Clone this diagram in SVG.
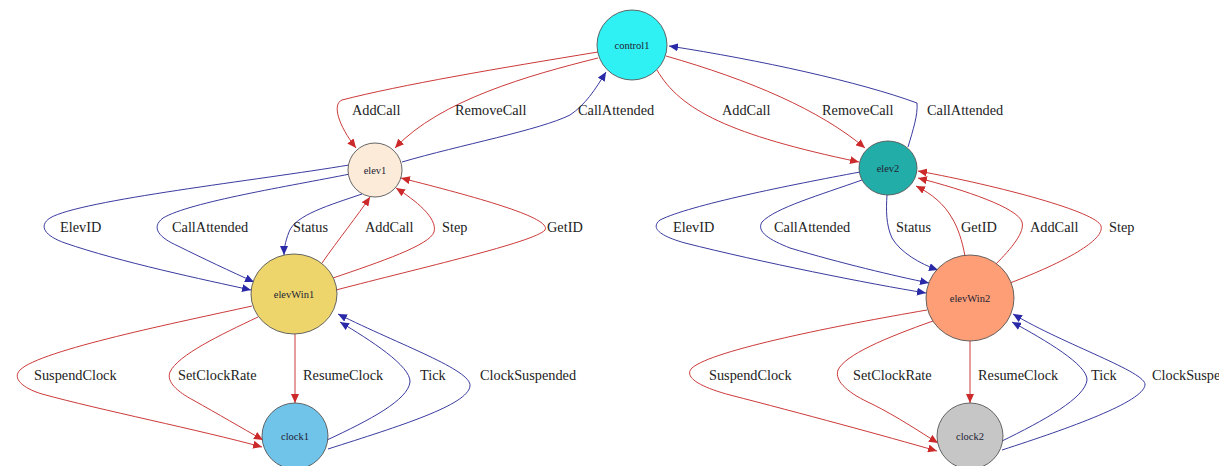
<svg xmlns="http://www.w3.org/2000/svg" width="1219" height="466" viewBox="0 0 1219 466">
<defs>
<marker id="ar" markerUnits="userSpaceOnUse" markerWidth="10" markerHeight="8" refX="9" refY="4" orient="auto"><path d="M0,0 L9,4 L0,8 z" fill="#cc2a2a"/></marker>
<marker id="ab" markerUnits="userSpaceOnUse" markerWidth="10" markerHeight="8" refX="9" refY="4" orient="auto"><path d="M0,0 L9,4 L0,8 z" fill="#2a2aa8"/></marker>
</defs>
<style>
.r{fill:none;stroke:#cc3a3a;stroke-width:1;marker-end:url(#ar)}
.b{fill:none;stroke:#3a3aa0;stroke-width:1;marker-end:url(#ab)}
.n{stroke:#555;stroke-width:0.9}
.t{font-family:"Liberation Serif",serif;font-size:10.5px;fill:#223;text-anchor:middle}
.l{font-family:"Liberation Serif",serif;font-size:14.3px;fill:#222}
</style>
<rect width="1219" height="466" fill="#fff"/>
<g id="connectors">
<path class="r" d="M598 52 C500 68,400 85,342 100 C332 104,338 125,356 148"/>
<path class="r" d="M598 58 C530 75,440 100,395 148"/>
<path class="b" d="M402 162 C460 145,540 130,570 115 C585 105,595 90,606 72"/>
<path class="r" d="M657 70 C680 110,730 135,859 162"/>
<path class="r" d="M666 56 C750 80,820 110,865 148"/>
<path class="b" d="M908 147 C913 130,918 115,917 103 C860 82,760 60,669 46"/>
<path class="b" d="M349 165 C260 180,80 200,50 218 C38 226,45 236,65 243 C120 262,205 280,251 290"/>
<path class="b" d="M350 174 C290 186,190 202,163 218 C150 228,160 238,178 246 C202 258,232 272,254 282"/>
<path class="b" d="M362 194 C330 205,295 215,289 232 C285 242,284 250,284 255"/>
<path class="r" d="M322 263 C338 240,358 215,370 197"/>
<path class="r" d="M333 278 C380 262,430 245,434 232 C438 218,415 200,396 188"/>
<path class="r" d="M336 290 C420 268,535 242,545 230 C552 218,480 198,401 178"/>
<path class="r" d="M252 306 C180 322,40 350,20 370 C12 378,22 388,42 394 C100 410,200 430,262 447"/>
<path class="r" d="M258 317 C220 335,178 355,170 372 C166 382,178 392,193 400 C218 414,242 428,263 440"/>
<path class="r" d="M295 334 L295 403"/>
<path class="b" d="M327 440 C370 420,408 400,410 382 C411 366,370 340,340 322"/>
<path class="b" d="M328 449 C400 426,468 405,470 386 C472 370,400 345,338 314"/>
<path class="b" d="M860 172 C790 185,690 205,660 220 C650 228,660 236,685 243 C760 262,870 284,926 293"/>
<path class="b" d="M862 180 C820 195,775 208,762 222 C756 232,770 240,790 248 C840 263,895 276,929 283"/>
<path class="b" d="M887 195 C886 210,886 225,892 238 C900 252,920 264,938 270"/>
<path class="r" d="M965 256 C962 240,958 228,952 218 C944 204,932 194,916 186"/>
<path class="r" d="M995 265 C1012 248,1025 232,1022 222 C1018 208,965 190,918 178"/>
<path class="r" d="M1010 283 C1065 262,1105 240,1101 226 C1097 212,1000 186,918 171"/>
<path class="r" d="M927 310 C840 325,712 350,692 368 C683 377,700 387,730 395 C800 413,885 436,937 451"/>
<path class="r" d="M933 321 C885 338,845 355,838 370 C834 382,850 394,872 404 C898 417,920 432,938 443"/>
<path class="r" d="M970 341 L970 403"/>
<path class="b" d="M1000 442 C1045 420,1085 398,1087 380 C1088 365,1045 340,1012 322"/>
<path class="b" d="M1002 450 C1070 428,1143 402,1145 385 C1147 372,1065 345,1013 314"/>
</g>
<g id="labels">
<text class="l" x="352" y="115">AddCall</text>
<text class="l" x="455" y="115">RemoveCall</text>
<text class="l" x="578" y="115">CallAttended</text>
<text class="l" x="722" y="115">AddCall</text>
<text class="l" x="822" y="115">RemoveCall</text>
<text class="l" x="927" y="115">CallAttended</text>
<text class="l" x="60" y="232">ElevID</text>
<text class="l" x="172" y="232">CallAttended</text>
<text class="l" x="293" y="232">Status</text>
<text class="l" x="365" y="232">AddCall</text>
<text class="l" x="442" y="232">Step</text>
<text class="l" x="547" y="232">GetID</text>
<text class="l" x="673" y="232">ElevID</text>
<text class="l" x="774" y="232">CallAttended</text>
<text class="l" x="896" y="232">Status</text>
<text class="l" x="961" y="232">GetID</text>
<text class="l" x="1030" y="232">AddCall</text>
<text class="l" x="1109" y="232">Step</text>
<text class="l" x="34" y="380">SuspendClock</text>
<text class="l" x="178" y="380">SetClockRate</text>
<text class="l" x="303" y="380">ResumeClock</text>
<text class="l" x="420" y="380">Tick</text>
<text class="l" x="480" y="380">ClockSuspended</text>
<text class="l" x="709" y="380">SuspendClock</text>
<text class="l" x="853" y="380">SetClockRate</text>
<text class="l" x="978" y="380">ResumeClock</text>
<text class="l" x="1091" y="380">Tick</text>
<text class="l" x="1152" y="380">ClockSuspended</text>
</g>
<g id="control1"><circle class="n" cx="632" cy="45" r="35" fill="#2ff0f2"/><text class="t" x="632" y="49">control1</text></g>
<g id="elev1"><circle class="n" cx="375" cy="170" r="27" fill="#fcebd9"/><text class="t" x="375" y="174">elev1</text></g>
<g id="elevWin1"><ellipse class="n" cx="294" cy="294" rx="43" ry="40" fill="#edd56c"/><text class="t" x="294" y="298">elevWin1</text></g>
<g id="clock1"><circle class="n" cx="295" cy="436" r="33" fill="#70c4ea"/><text class="t" x="295" y="440">clock1</text></g>
<g id="elev2"><ellipse class="n" cx="888" cy="168" rx="29" ry="27" fill="#22ada8"/><text class="t" x="888" y="172">elev2</text></g>
<g id="elevWin2"><ellipse class="n" cx="970" cy="298" rx="44" ry="43" fill="#fd9e77"/><text class="t" x="970" y="302">elevWin2</text></g>
<g id="clock2"><circle class="n" cx="970" cy="436" r="33" fill="#c6c6c6"/><text class="t" x="970" y="440">clock2</text></g>
</svg>
